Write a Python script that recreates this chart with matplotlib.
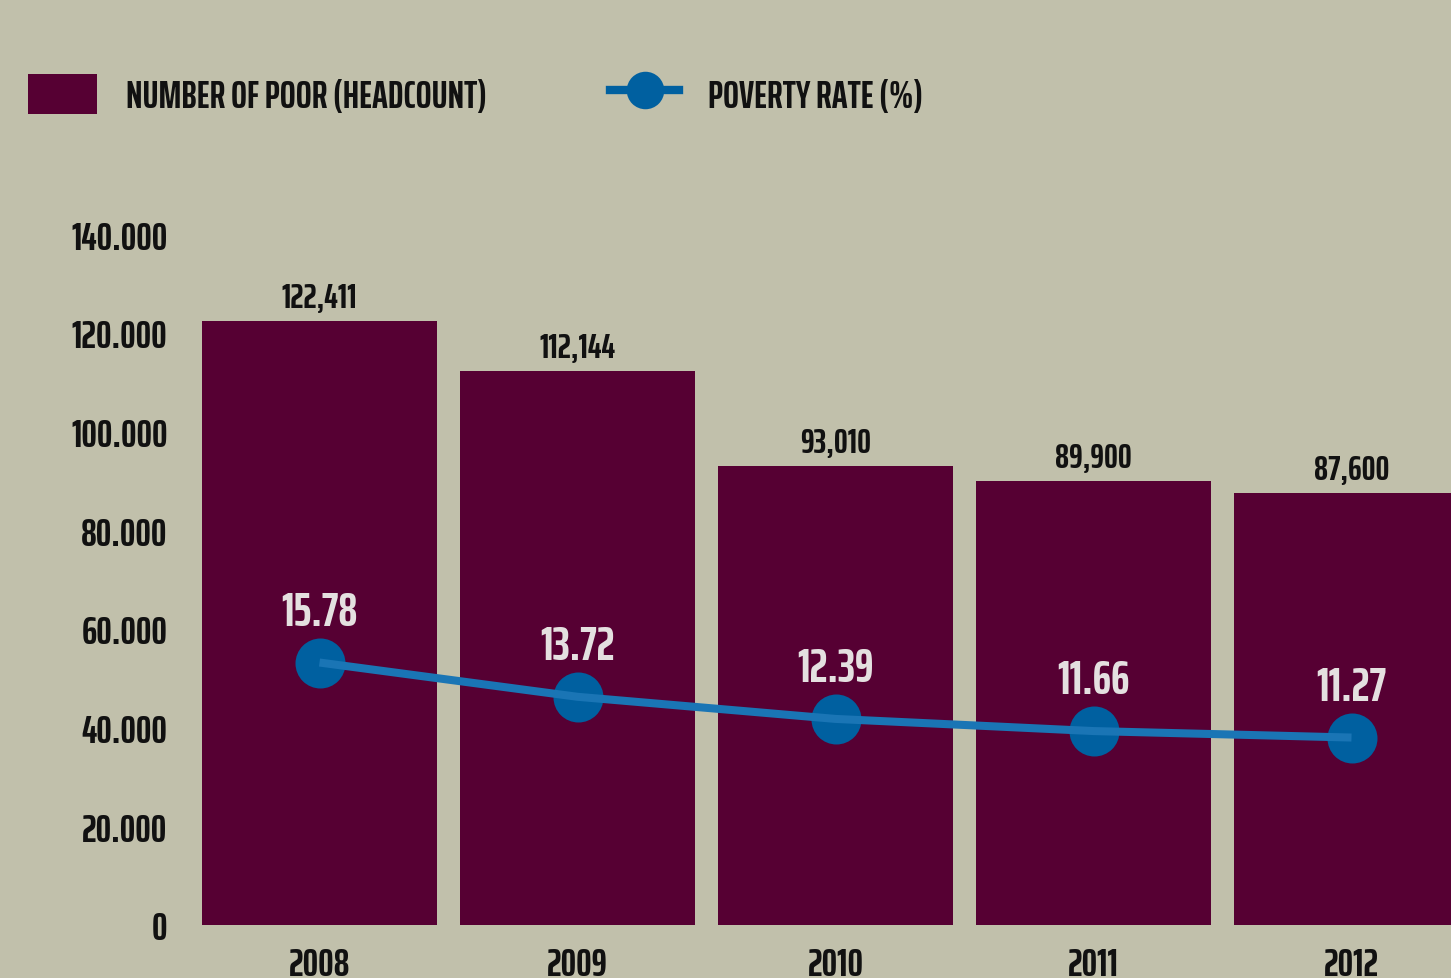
import matplotlib
matplotlib.use('Agg')
import matplotlib.pyplot as plt
from matplotlib.patches import Patch
from matplotlib.lines import Line2D

# data
years = ['2008', '2009', '2010', '2011', '2012']
poor_count = [122411, 112144, 93010, 89900, 87600]
poverty_rate = [15.78, 13.72, 12.39, 11.66, 11.27]
y_ticks = [0, 20000, 40000, 60000, 80000, 100000, 120000, 140000]
y_tick_labels = ['0', '20.000', '40.000', '60.000', '80.000', '100.000', '120.000', '140.000']

BG = '#c1c0ab'
BAR = '#560033'
DOT = '#0060a0'
LINE = '#1a75b5'
INK = '#111111'

plt.rcParams['font.family'] = ['Saira ExtraCondensed', 'DejaVu Sans']
plt.rcParams['font.weight'] = 'bold'

W, H = 1451, 979
fig = plt.figure(figsize=(W / 100, H / 100), dpi=100, facecolor=BG)

# axes placed in pixel terms
left, right, bottom, top = 180, 1451, 926, 235
ax = fig.add_axes([left / W, 1 - bottom / H, (right - left) / W, (bottom - top) / H])
ax.set_facecolor('none')

x = list(range(len(years)))
step = 258
ax.set_xlim(-(319.5 - left) / step, (right - 319.5) / step)
ax.set_ylim(0, 140000)

ax.bar(x, poor_count, width=235 / step, color=BAR, zorder=1)
for xi, v in zip(x, poor_count):
    ax.annotate(f'{v:,}', (xi, v), xytext=(0, 17), textcoords='offset points',
                ha='center', va='center', fontsize=25, color=INK, annotation_clip=False)

ax.set_yticks(y_ticks)
ax.set_yticklabels(y_tick_labels)
ax.set_xticks(x)
ax.set_xticklabels(years)
ax.tick_params(axis='y', length=0, pad=9, labelsize=28, labelcolor=INK)
ax.tick_params(axis='x', length=0, pad=15, labelsize=28, labelcolor=INK)
for s in ax.spines.values():
    s.set_visible(False)

# poverty rate on a hidden second axis
ax2 = ax.twinx()
ax2.set_ylim(0, 140 / 3.37)
ax2.axis('off')
ax2.plot(x, poverty_rate, linestyle='none', marker='o', markersize=36,
         markerfacecolor=DOT, markeredgewidth=0, zorder=2)
ax2.plot(x, poverty_rate, color=LINE, lw=5.8, solid_capstyle='butt', zorder=3)
for xi, r in zip(x, poverty_rate):
    ax2.annotate(f'{r:.2f}', (xi, r), xytext=(0, 37), textcoords='offset points',
                 ha='center', va='center', fontsize=34, color='#e4e0e0', annotation_clip=False)

handles = [Patch(facecolor=BAR, edgecolor='none'),
           Line2D([], [], color=DOT, lw=6, marker='o', markersize=27, markeredgewidth=0)]
fig.legend(handles, ['NUMBER OF POOR (HEADCOUNT)', 'POVERTY RATE (%)'],
           loc='upper left', bbox_to_anchor=(28 / W, 1 - 75 / H), ncol=2, frameon=False,
           fontsize=27, handlelength=1.84, handleheight=1.28, handletextpad=0.77,
           columnspacing=3.3, borderpad=0, borderaxespad=0, labelcolor=INK)

fig.savefig('out.png', dpi=100, facecolor=BG)
